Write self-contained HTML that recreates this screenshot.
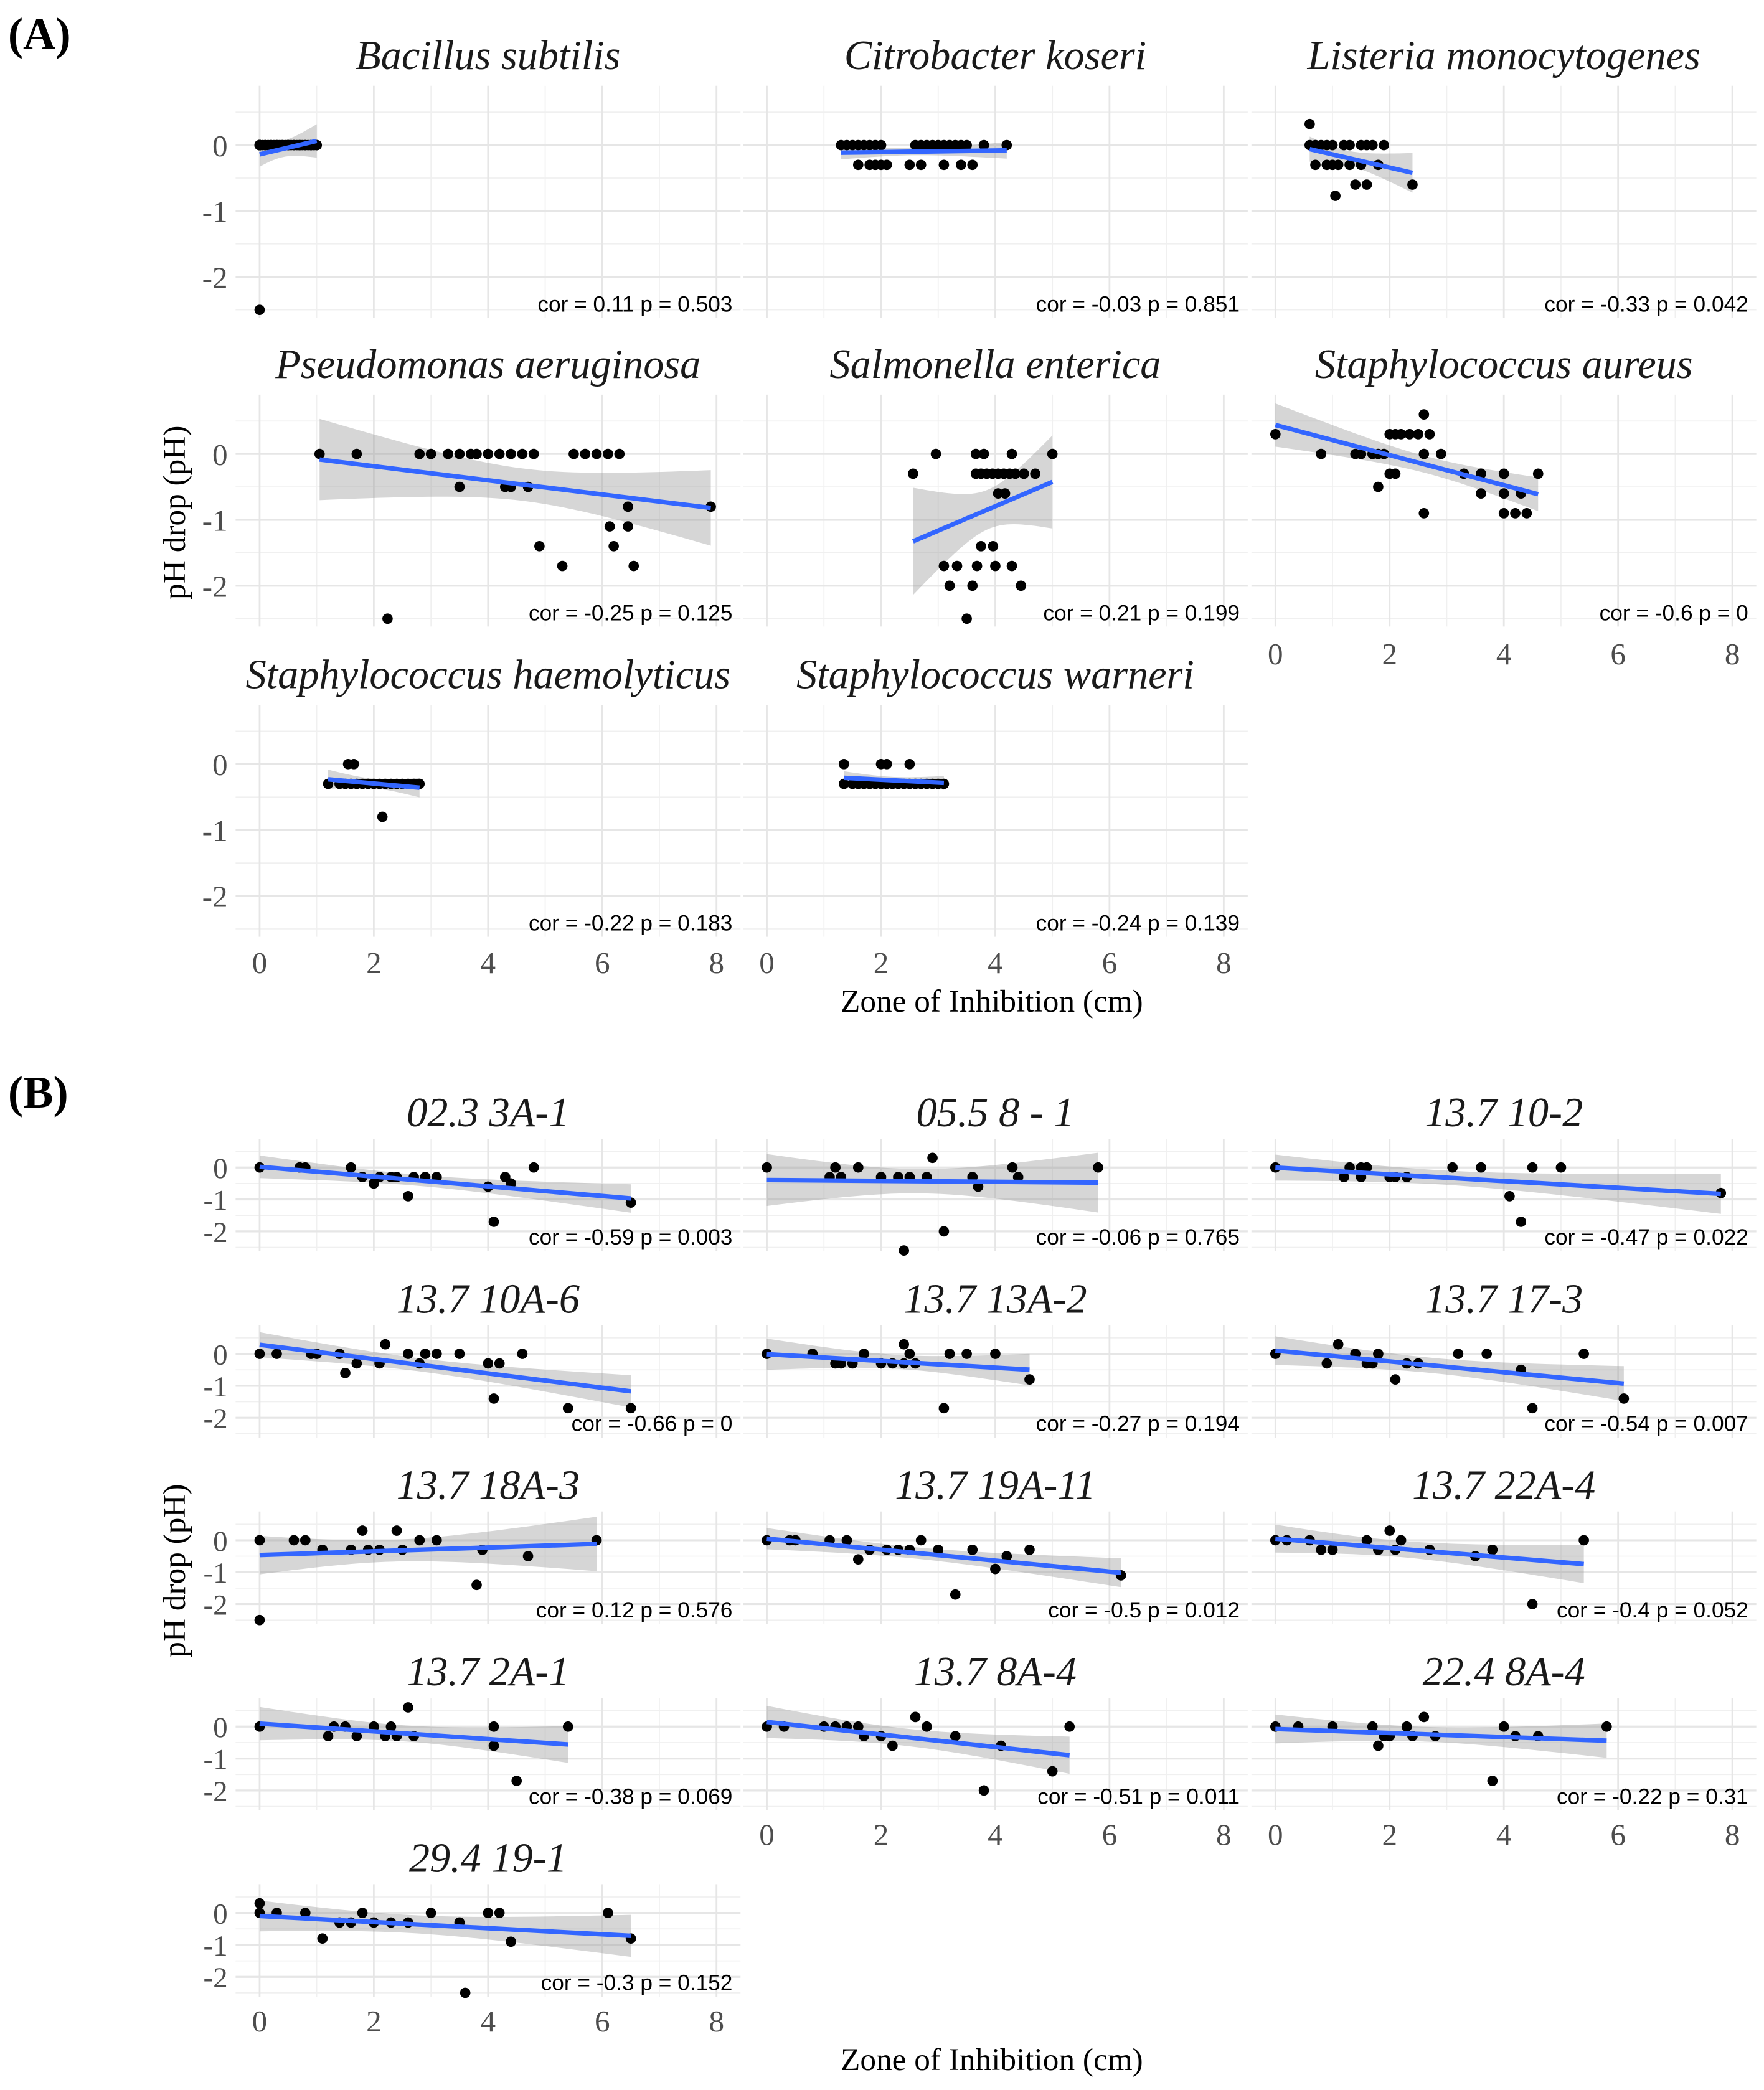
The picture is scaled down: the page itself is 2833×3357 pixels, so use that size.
<!DOCTYPE html>
<html><head><meta charset="utf-8"><title>pH drop vs Zone of Inhibition</title>
<style>html,body{margin:0;padding:0;background:#fff}svg{display:block}</style></head>
<body>
<svg id="fig" xmlns="http://www.w3.org/2000/svg" width="2833" height="3357" viewBox="0 0 1325 1570" preserveAspectRatio="none"></svg>
<script>
// ---------- Panel A data ----------
const titlesA = ["Bacillus subtilis","Citrobacter koseri","Listeria monocytogenes","Pseudomonas aeruginosa","Salmonella enterica","Staphylococcus aureus","Staphylococcus haemolyticus","Staphylococcus warneri"];
const corA = ["cor = 0.11 p = 0.503","cor = -0.03 p = 0.851","cor = -0.33 p = 0.042","cor = -0.25 p = 0.125","cor = 0.21 p = 0.199","cor = -0.6 p = 0","cor = -0.22 p = 0.183","cor = -0.24 p = 0.139"];
const xA = [
 [0,0,0,0,0,0,0,0,0,0,0.05,0.1,0.15,0.2,0.25,0.3,0.35,0.4,0.45,0.5,0.55,0.6,0.65,0.7,0.75,0.8,0.85,0.9,0.95,1.0,0.3,0.5,0.7,0.9,0.1,0.2,0.4,0.6,0.8,1.0,0],
 [1.3,1.4,1.5,1.6,1.7,1.8,1.9,2.0,2.6,2.7,2.8,2.9,3.0,3.1,3.2,3.3,3.4,3.5,3.8,4.2,1.6,1.8,1.9,2.0,2.1,2.5,2.7,3.1,3.4,3.6],
 [0.6,0.6,0.7,0.8,0.9,1.0,1.2,1.3,1.5,1.6,1.7,1.9,0.7,0.9,1.0,1.1,1.3,1.5,1.8,1.4,1.6,2.4,1.05],
 [1.05,1.7,2.8,3.0,3.3,3.5,3.7,3.8,4.0,4.2,4.4,4.6,4.8,5.5,5.7,5.9,6.1,6.3,3.5,4.3,4.4,4.7,6.13,6.45,6.45,7.9,4.9,6.2,5.3,6.55,2.24],
 [2.96,3.66,3.8,4.29,5.0,2.56,3.66,3.75,3.85,3.95,4.05,4.15,4.25,4.35,4.5,4.7,4.05,4.17,3.75,3.96,3.1,3.33,3.68,4.0,4.29,3.2,3.6,4.45,3.5],
 [0,2.6,2.0,2.1,2.2,2.35,2.5,2.7,0.8,1.4,1.5,1.7,1.8,1.9,2.6,2.9,2.0,2.1,3.3,3.6,4.0,4.6,1.8,3.6,4.0,4.3,2.6,4.0,4.2,4.4],
 [1.55,1.65,1.2,1.4,1.5,1.6,1.7,1.8,1.9,2.0,2.1,2.2,2.3,2.4,2.5,2.6,2.7,2.8,2.15],
 [1.35,2.0,2.1,2.5,1.35,1.5,1.6,1.7,1.8,1.9,2.0,2.1,2.2,2.3,2.4,2.5,2.6,2.7,2.8,2.9,3.0,3.1]
];
const yA = [
 [0,0,0,0,0,0,0,0,0,0,0,0,0,0,0,0,0,0,0,0,0,0,0,0,0,0,0,0,0,0,0,0,0,0,0,0,0,0,0,0,-2.5],
 [0,0,0,0,0,0,0,0,0,0,0,0,0,0,0,0,0,0,0,0,-0.3,-0.3,-0.3,-0.3,-0.3,-0.3,-0.3,-0.3,-0.3,-0.3],
 [0.32,0,0,0,0,0,0,0,0,0,0,0,-0.3,-0.3,-0.3,-0.3,-0.3,-0.3,-0.3,-0.6,-0.6,-0.6,-0.77],
 [0,0,0,0,0,0,0,0,0,0,0,0,0,0,0,0,0,0,-0.5,-0.5,-0.5,-0.5,-1.1,-1.1,-0.8,-0.8,-1.4,-1.4,-1.7,-1.7,-2.5],
 [0,0,0,0,0,-0.3,-0.3,-0.3,-0.3,-0.3,-0.3,-0.3,-0.3,-0.3,-0.3,-0.3,-0.6,-0.6,-1.4,-1.4,-1.7,-1.7,-1.7,-1.7,-1.7,-2.0,-2.0,-2.0,-2.5],
 [0.3,0.6,0.3,0.3,0.3,0.3,0.3,0.3,0,0,0,0,0,0,0,0,-0.3,-0.3,-0.3,-0.3,-0.3,-0.3,-0.5,-0.6,-0.6,-0.6,-0.9,-0.9,-0.9,-0.9],
 [0,0,-0.3,-0.3,-0.3,-0.3,-0.3,-0.3,-0.3,-0.3,-0.3,-0.3,-0.3,-0.3,-0.3,-0.3,-0.3,-0.3,-0.8],
 [0,0,0,0,-0.3,-0.3,-0.3,-0.3,-0.3,-0.3,-0.3,-0.3,-0.3,-0.3,-0.3,-0.3,-0.3,-0.3,-0.3,-0.3,-0.3,-0.3]
];
// ---------- Panel B data ----------
const titlesB = ["02.3 3A-1","05.5 8 - 1","13.7 10-2","13.7 10A-6","13.7 13A-2","13.7 17-3","13.7 18A-3","13.7 19A-11","13.7 22A-4","13.7 2A-1","13.7 8A-4","22.4 8A-4","29.4 19-1"];
const corB = ["cor = -0.59 p = 0.003","cor = -0.06 p = 0.765","cor = -0.47 p = 0.022","cor = -0.66 p = 0","cor = -0.27 p = 0.194","cor = -0.54 p = 0.007","cor = 0.12 p = 0.576","cor = -0.5 p = 0.012","cor = -0.4 p = 0.052","cor = -0.38 p = 0.069","cor = -0.51 p = 0.011","cor = -0.22 p = 0.31","cor = -0.3 p = 0.152"];
const xB = [
 [0,0.7,0.8,1.6,1.8,2.0,2.1,2.3,2.4,2.6,2.7,2.9,3.1,4.0,4.1,4.3,4.4,4.8,6.5],
 [0,1.1,1.2,1.3,1.6,2.0,2.3,2.5,2.8,2.4,2.9,3.1,3.6,3.7,4.3,4.4,5.8],
 [0,1.2,1.3,1.5,1.5,1.6,2.0,2.1,2.3,3.1,3.6,4.1,4.3,4.5,5.0,7.8],
 [0,0.3,0.9,1.0,1.4,1.5,1.7,2.1,2.2,2.6,2.8,2.9,3.1,3.5,4.0,4.1,4.2,4.6,5.4,6.5],
 [0,0.8,1.2,1.3,1.5,1.7,2.0,2.2,2.4,2.4,2.5,2.6,3.1,3.2,3.5,4.0,4.6],
 [0,0.9,1.1,1.4,1.6,1.7,1.8,2.1,2.3,2.5,3.2,3.7,4.3,4.5,5.4,6.1],
 [0,0,0.6,0.8,1.1,1.6,1.8,1.9,2.1,2.4,2.5,2.8,3.1,3.9,3.8,4.7,5.9],
 [0,0.4,0.5,1.1,1.4,1.6,1.8,2.1,2.3,2.5,2.7,3.0,3.3,3.6,4.0,4.2,4.6,6.2],
 [0,0.2,0.6,0.8,1.0,1.6,1.8,2.0,2.1,2.2,2.7,3.5,3.8,4.5,5.4],
 [0,1.2,1.3,1.5,1.7,2.0,2.2,2.3,2.4,2.6,2.7,4.1,4.1,4.5,5.4],
 [0,0.3,1.0,1.2,1.4,1.6,1.7,2.0,2.2,2.6,2.8,3.3,3.8,4.1,5.0,5.3],
 [0,0.4,1.0,1.7,1.8,1.9,2.0,2.3,2.4,2.6,2.8,3.8,4.0,4.2,4.6,5.8],
 [0,0,0.3,0.8,1.1,1.4,1.6,1.8,2.0,2.3,2.6,3.0,3.5,3.6,4.0,4.2,4.4,6.1,6.5]
];
const yB = [
 [0,0,0,0,-0.3,-0.5,-0.3,-0.3,-0.3,-0.9,-0.3,-0.3,-0.3,-0.6,-1.7,-0.3,-0.5,0,-1.1],
 [0,-0.3,0,-0.3,0,-0.3,-0.3,-0.3,-0.3,-2.6,0.3,-2.0,-0.3,-0.6,0,-0.3,0],
 [0,-0.3,0,0,-0.3,0,-0.3,-0.3,-0.3,0,0,-0.9,-1.7,0,0,-0.8],
 [0,0,0,0,0,-0.6,-0.3,-0.3,0.3,0,-0.3,0,0,0,-0.3,-1.4,-0.3,0,-1.7,-1.7],
 [0,0,-0.3,-0.3,-0.3,0,-0.3,-0.3,-0.3,0.3,0,-0.3,-1.7,0,0,0,-0.8],
 [0,-0.3,0.3,0,-0.3,-0.3,0,-0.8,-0.3,-0.3,0,0,-0.5,-1.7,0,-1.4],
 [0,-2.5,0,0,-0.3,-0.3,0.3,-0.3,-0.3,0.3,-0.3,0,0,-0.3,-1.4,-0.5,0],
 [0,0,0,0,0,-0.6,-0.3,-0.3,-0.3,-0.3,0,-0.3,-1.7,-0.3,-0.9,-0.5,-0.3,-1.1],
 [0,0,0,-0.3,-0.3,0,-0.3,0.3,-0.3,0,-0.3,-0.5,-0.3,-2.0,0],
 [0,-0.3,0,0,-0.3,0,-0.3,0,-0.3,0.6,-0.3,0,-0.6,-1.7,0],
 [0,0,0,0,0,0,-0.3,-0.3,-0.6,0.3,0,-0.3,-2.0,-0.6,-1.4,0],
 [0,0,0,0,-0.6,-0.3,-0.3,0,-0.3,0.3,-0.3,-1.7,0,-0.3,-0.3,0],
 [0.3,0,0,0,-0.8,-0.3,-0.3,0,-0.3,-0.3,-0.3,0,-0.3,-2.5,0,0,-0.9,0,-0.8]
];
const xTicks = [0,2,4,6,8];
const yTicks = [0,-1,-2];

const NS = "http://www.w3.org/2000/svg";
const svg = document.getElementById("fig");
function mk(tag, attrs, parent, text) {
  const e = document.createElementNS(NS, tag);
  for (const k in attrs) e.setAttribute(k, attrs[k]);
  if (text !== undefined) e.textContent = text;
  (parent || svg).appendChild(e);
  return e;
}
const colX0 = [195, 576, 958];
const PXU = 42.9;
const XMIN = -0.42, XMAX = 8.42, YMAX = 0.9, YMIN = -2.62;

function fit(xs, ys) {
  const n = xs.length;
  let mx = 0, my = 0;
  for (let i = 0; i < n; i++) { mx += xs[i]; my += ys[i]; }
  mx /= n; my /= n;
  let sxx = 0, sxy = 0;
  for (let i = 0; i < n; i++) { sxx += (xs[i]-mx)**2; sxy += (xs[i]-mx)*(ys[i]-my); }
  const b = sxx ? sxy / sxx : 0, a = my - b*mx;
  let sse = 0;
  for (let i = 0; i < n; i++) sse += (ys[i] - a - b*xs[i])**2;
  const s = Math.sqrt(sse / Math.max(1, n-2));
  return {a, b, mx, sxx, s, n};
}

function panel(col, y0, ppu, title, xs, ys, cor, name, corDy, titleDy) {
  const x0 = colX0[col];
  const sx = v => x0 + v * PXU;
  const sy = v => y0 - v * ppu;
  const g = mk("g", {});
  
  
  const L = sx(XMIN), R = sx(XMAX), T = sy(YMAX), B = sy(YMIN);
  for (let v = 1; v <= 7; v += 2) mk("line", {x1:sx(v),x2:sx(v),y1:T,y2:B,stroke:"#f0f0f0","stroke-width":0.8}, g);
  for (const v of [0.5,-0.5,-1.5,-2.5]) mk("line", {x1:L,x2:R,y1:sy(v),y2:sy(v),stroke:"#f0f0f0","stroke-width":0.8}, g);
  for (const v of xTicks) mk("line", {x1:sx(v),x2:sx(v),y1:T,y2:B,stroke:"#e6e6e6","stroke-width":1.3}, g);
  for (const v of yTicks) mk("line", {x1:L,x2:R,y1:sy(v),y2:sy(v),stroke:"#e6e6e6","stroke-width":1.5}, g);
  const t = mk("text", {x:(L+R)/2, y:y0+titleDy, "text-anchor":"middle", "font-family":"'Liberation Serif', serif", "font-style":"italic", "font-size":31, fill:"#1a1a1a"}, g, title);
  
  
  const f = fit(xs, ys);
  const xmin = Math.min(...xs), xmax = Math.max(...xs);
  const up = [], lo = [];
  const tq = 2.04;
  for (let k = 0; k <= 40; k++) {
    const xv = xmin + (xmax - xmin) * k / 40;
    const yh = f.a + f.b * xv;
    const se = f.s * Math.sqrt(1/f.n + (f.sxx ? (xv-f.mx)**2/f.sxx : 0));
    up.push(sx(xv).toFixed(2) + "," + sy(yh + tq*se).toFixed(2));
    lo.unshift(sx(xv).toFixed(2) + "," + sy(yh - tq*se).toFixed(2));
  }
  const rib = mk("polygon", {points: up.concat(lo).join(" "), fill:"#999999", "fill-opacity":0.4}, g);
  
  
  for (let i = 0; i < xs.length; i++) {
    const c = mk("circle", {cx:sx(xs[i]), cy:sy(ys[i]), r:3.9, fill:"#000"}, g);
    
    
  }
  const ln = mk("line", {x1:sx(xmin), y1:sy(f.a+f.b*xmin), x2:sx(xmax), y2:sy(f.a+f.b*xmax), stroke:"#3366FF", "stroke-width":3.4}, g);
  
  
  const ct = mk("text", {x:R-6, y:y0+corDy, "text-anchor":"end", "font-family":"'Liberation Sans', sans-serif", "font-size":16.5, fill:"#000"}, g, cor);
  
  
  return {sx, sy, g};
}
function yLabels(y0, ppu, x0, size) {
  for (const v of yTicks) {
    const t = mk("text", {x:x0-24, y:y0 - v*ppu + size*0.36, "text-anchor":"end", "font-family":"'Liberation Serif', serif", "font-size":size, fill:"#4d4d4d"}, svg, String(v));
    
    
  }
}
function xLabels(col, yb) {
  for (const v of xTicks) {
    const t = mk("text", {x:colX0[col] + v*PXU, y:yb, "text-anchor":"middle", "font-family":"'Liberation Serif', serif", "font-size":23, fill:"#4d4d4d"}, svg, String(v));
    
    
  }
}

const rowY0A = [109, 341, 574];
titlesA.forEach((tt, i) => {
  const col = i % 3, row = Math.floor(i / 3);
  panel(col, rowY0A[row], 49.5, tt, xA[i], yA[i], corA[i], "panel-a-" + tt.toLowerCase().replace(/\s+/g, "-"), 125, -57);
});
rowY0A.forEach(y => yLabels(y, 49.5, colX0[0], 23));
xLabels(0, 731); xLabels(1, 731); xLabels(2, 499);

const rowY0B = [877, 1017, 1157, 1297, 1437];
titlesB.forEach((tt, i) => {
  const col = i % 3, row = Math.floor(i / 3);
  panel(col, rowY0B[row], 24, tt, xB[i], yB[i], corB[i], "panel-b-" + tt.toLowerCase().replace(/[^a-z0-9]+/g, "-"), 58, -31);
});
rowY0B.forEach(y => yLabels(y, 24, colX0[0], 22));
xLabels(0, 1526); xLabels(1, 1386); xLabels(2, 1386);

function txt(attrs, s, name) {
  const t = mk("text", attrs, svg, s);
  
  
  return t;
}
txt({x:6, y:37, "font-family":"'Liberation Serif', serif", "font-weight":"bold", "font-size":34, fill:"#000"}, "(A)", "section-label-a");
txt({x:6, y:832, "font-family":"'Liberation Serif', serif", "font-weight":"bold", "font-size":34, fill:"#000"}, "(B)", "section-label-b");
txt({x:745, y:760, "text-anchor":"middle", "font-family":"'Liberation Serif', serif", "font-size":24, fill:"#000"}, "Zone of Inhibition (cm)", "x-axis-title-a");
txt({x:745, y:1555, "text-anchor":"middle", "font-family":"'Liberation Serif', serif", "font-size":24, fill:"#000"}, "Zone of Inhibition (cm)", "x-axis-title-b");
txt({x:0, y:0, "text-anchor":"middle", "font-family":"'Liberation Serif', serif", "font-size":24, fill:"#000", transform:"translate(139,385) rotate(-90)"}, "pH drop (pH)", "y-axis-title-a");
txt({x:0, y:0, "text-anchor":"middle", "font-family":"'Liberation Serif', serif", "font-size":24, fill:"#000", transform:"translate(139,1180) rotate(-90)"}, "pH drop (pH)", "y-axis-title-b");
</script>
</body></html>
